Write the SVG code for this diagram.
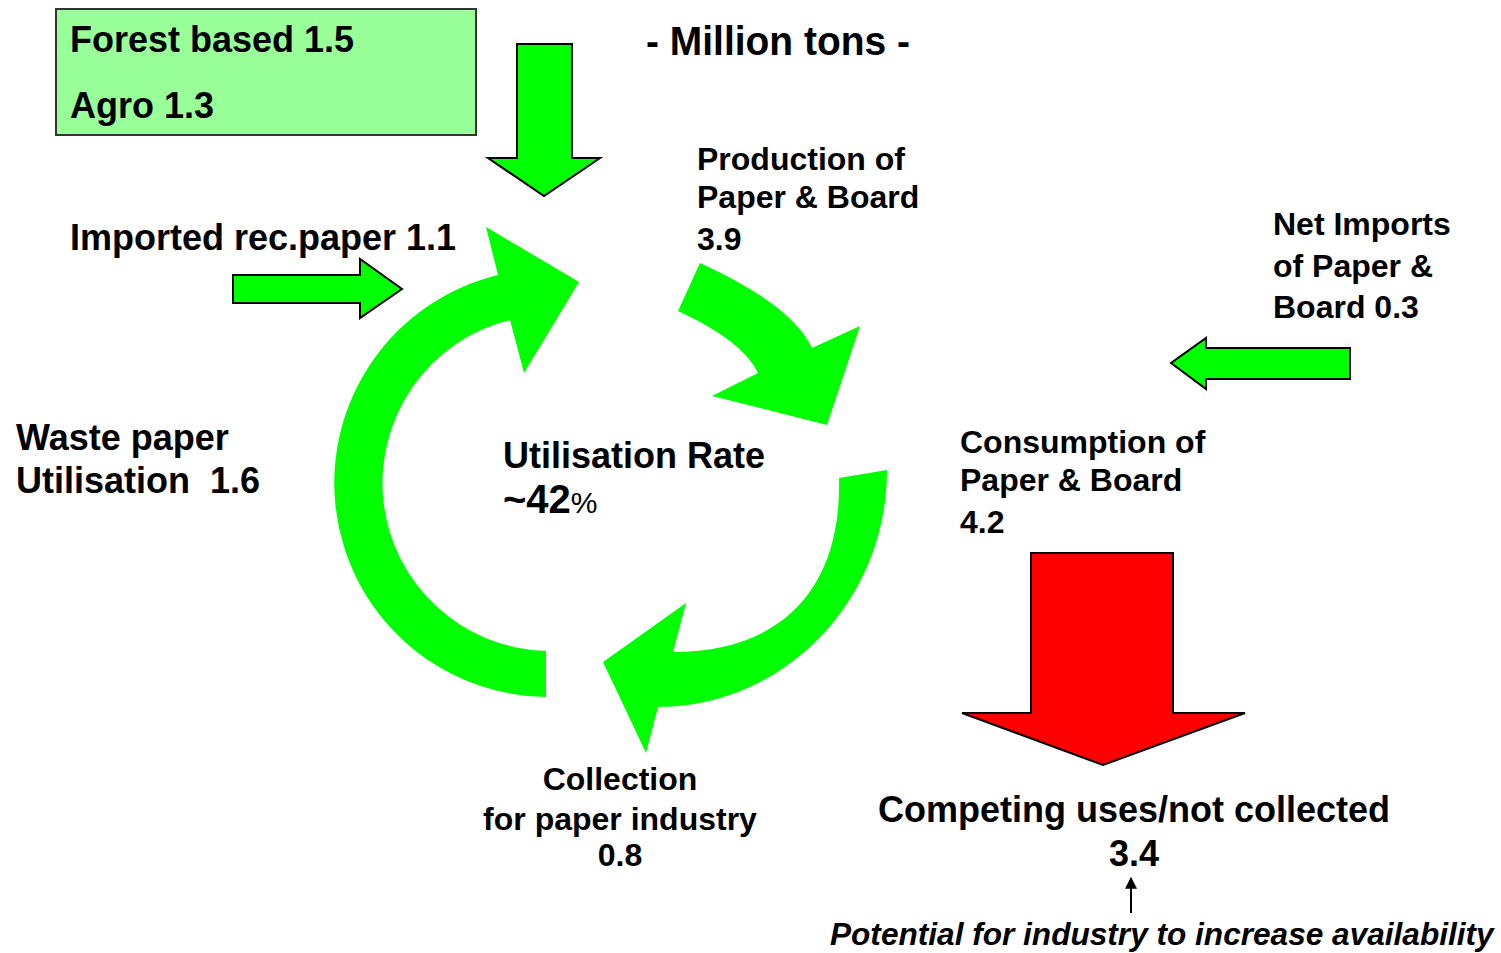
<svg xmlns="http://www.w3.org/2000/svg" width="1501" height="953" viewBox="0 0 1501 953">
<style>
.t{font-family:"Liberation Sans",Arial,sans-serif;font-weight:bold;fill:#000;}
.s36{font-size:36px;}
.s32{font-size:32px;}
.flow{fill:#00FF00;stroke:none;}
.sarrow{fill:#00FF00;stroke:#000;stroke-width:2;stroke-linejoin:miter;}
</style>
<defs>
<marker id="ah" viewBox="0 0 10 10" refX="9" refY="5" markerWidth="6" markerHeight="6" orient="auto"><path d="M0,0 L10,5 L0,10 Z" fill="#000"/></marker>
</defs>
<rect width="1501" height="953" fill="#fff"/>

<g id="sources">
<rect x="56" y="9" width="420" height="126" fill="#99FF99" stroke="#333" stroke-width="2"/>
<text class="t s36" x="70" y="52">Forest based 1.5</text>
<text class="t s36" x="70" y="118">Agro 1.3</text>
</g>

<g id="title">
<text class="t" x="646" y="55" font-size="40" textLength="264" lengthAdjust="spacingAndGlyphs">- Million tons -</text>
</g>

<g id="connectors">
<polygon id="arrow-sources" class="sarrow" points="517,44 572,44 572,158 600,158 544,196 488,158 517,158"/>
<polygon id="arrow-imported" class="sarrow" points="233,275 360,275 360,259 402,289 360,318 360,303 233,303"/>
<polygon id="arrow-netimports" class="sarrow" points="1350,348 1206,348 1206,338 1171,363 1206,389 1206,379 1350,379"/>
<polygon id="arrow-competing" points="1031,553 1173,553 1173,713 1245,713 1103,765 962,713 1031,713" fill="#FF0000" stroke="#000" stroke-width="2"/>
<path id="cycle-utilisation" class="flow" d="M546,697 A214,214 0 0 1 498,275 L486,227 L579,282 L524,373 L510,320 A168,168 0 0 0 546,651 Z"/>
<path id="cycle-production" class="flow" d="M700,263 Q792,305 812,348 L860,326 L827,425 L712,396 L758,373 Q743,341 678,311 Z"/>
<path id="cycle-consumption" class="flow" d="M887,470 C887,601 784,707 658,707 L646,753 L603,662 L686,603 L673,652 C780,652 842,590 839,478 Z"/>
<line id="arrow-potential" x1="1131" y1="913" x2="1131" y2="878" stroke="#000" stroke-width="2" marker-end="url(#ah)"/>
</g>

<g id="production">
<text class="t s32" x="697" y="170">Production of</text>
<text class="t s32" x="697" y="208">Paper &amp; Board</text>
<text class="t s32" x="697" y="250">3.9</text>
</g>

<g id="imported">
<text class="t s36" x="70" y="250">Imported rec.paper 1.1</text>
</g>

<g id="netimports">
<text class="t s32" x="1273" y="235">Net Imports</text>
<text class="t s32" x="1273" y="277">of Paper &amp;</text>
<text class="t s32" x="1273" y="318">Board 0.3</text>
</g>

<g id="waste">
<text class="t s36" x="16" y="450">Waste paper</text>
<text class="t s36" x="16" y="493" xml:space="preserve">Utilisation  1.6</text>
</g>

<g id="rate">
<text class="t s36" x="503" y="468">Utilisation Rate</text>
<text class="t" x="503" y="513" font-size="40">~42<tspan font-size="30" font-weight="normal">%</tspan></text>
</g>

<g id="consumption">
<text class="t s32" x="960" y="453">Consumption of</text>
<text class="t s32" x="960" y="491">Paper &amp; Board</text>
<text class="t s32" x="960" y="533">4.2</text>
</g>

<g id="collection">
<text class="t s32" x="620" y="790" text-anchor="middle">Collection</text>
<text class="t s32" x="620" y="830" text-anchor="middle">for paper industry</text>
<text class="t s32" x="620" y="866" text-anchor="middle">0.8</text>
</g>

<g id="competing">
<text class="t s36" x="1134" y="822" text-anchor="middle">Competing uses/not collected</text>
<text class="t s36" x="1134" y="866" text-anchor="middle">3.4</text>
</g>

<g id="potential">
<text class="t" x="830" y="945" font-size="31.6" font-style="italic">Potential for industry to increase availability</text>
</g>
</svg>
